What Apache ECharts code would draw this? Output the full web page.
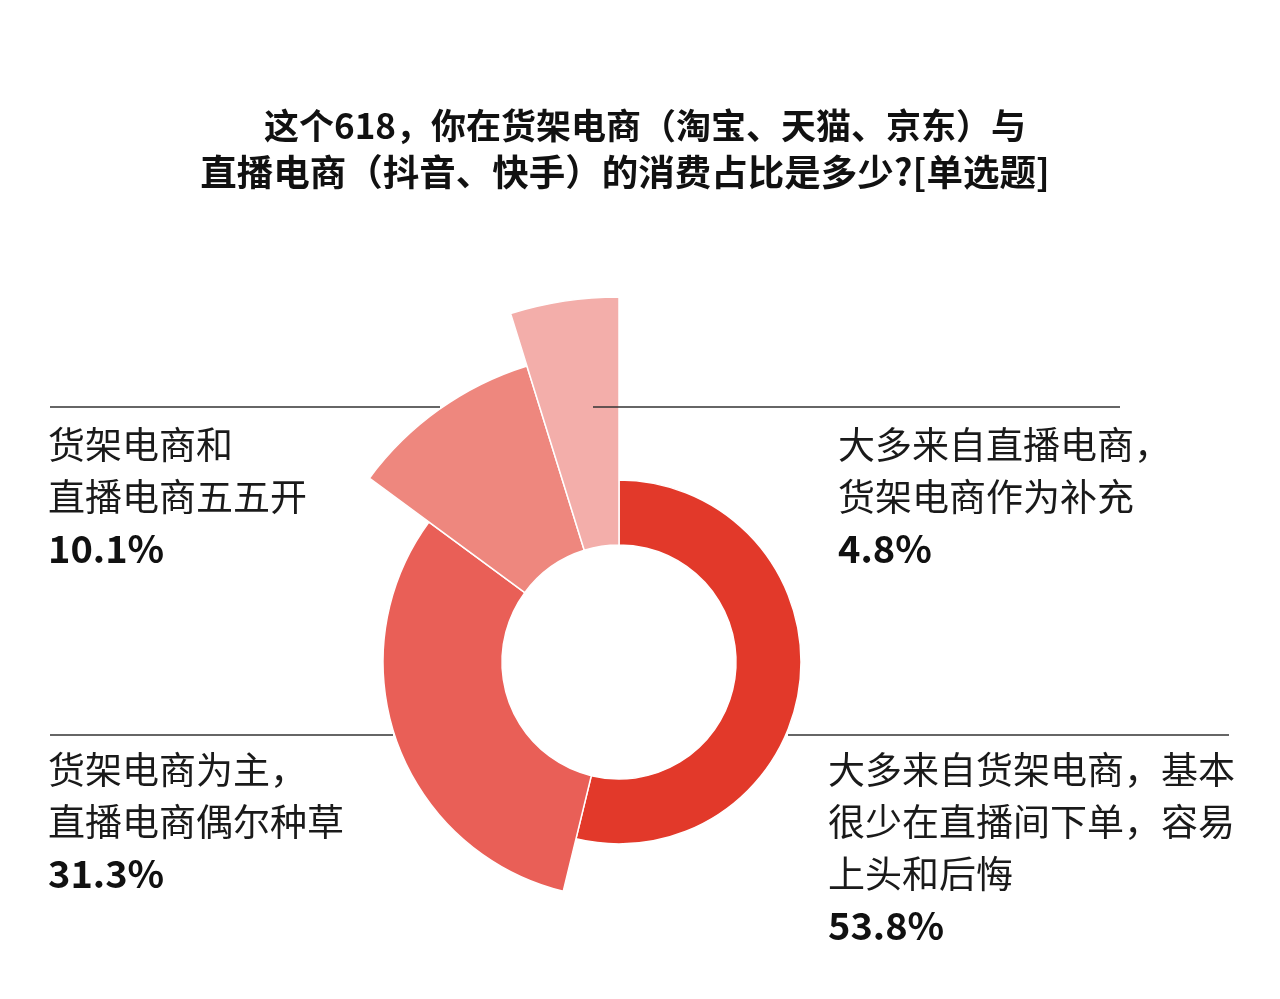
<!DOCTYPE html>
<html><head><meta charset="utf-8">
<script src="https://cdn.jsdelivr.net/npm/echarts@6/dist/echarts.min.js"></script>
<style>html,body{margin:0;padding:0;background:#fff}#c{width:1280px;height:999px}</style>
</head><body><div id="c"></div>
<script>
const titleLines = ['这个618，你在货架电商（淘宝、天猫、京东）与', '直播电商（抖音、快手）的消费占比是多少?[单选题]'];
const categories = ['大多来自货架电商，基本\n很少在直播间下单，容易\n上头和后悔', '货架电商为主，\n直播电商偶尔种草', '货架电商和\n直播电商五五开', '大多来自直播电商，\n货架电商作为补充'];
const values = [53.8, 31.3, 10.1, 4.8];

const colors = ['#e2392a', '#e95f57', '#ee877e', '#f3aeaa'];
const outerRadii = [182, 236, 310, 365];
const innerRadius = 117;
const center = [619, 662];
const labelPos = [[828, 744], [48, 744], [48, 419], [838, 419]];
const leaderLines = [[788, 735, 1229, 735], [50, 735, 393, 735], [50, 407, 440, 407], [593, 407, 1120, 407]];

const FONT = '"Noto Sans CJK SC", "Noto Sans", sans-serif';

const series = values.map((_, i) => ({
  type: 'pie',
  radius: [innerRadius, outerRadii[i]],
  center: center,
  startAngle: 90,
  clockwise: true,
  silent: true,
  animation: false,
  avoidLabelOverlap: false,
  labelLine: { show: false },
  labelLayout: function () {
    return { x: labelPos[i][0], y: labelPos[i][1], align: 'left', verticalAlign: 'top' };
  },
  data: values.map((v, j) => ({
    value: v,
    name: categories[j],
    itemStyle: j === i
      ? { color: colors[j], borderColor: '#fff', borderWidth: 1.5 }
      : { color: 'rgba(0,0,0,0)', borderWidth: 0 },
    label: { show: j === i }
  })),
  label: {
    position: 'outside',
    formatter: function (p) {
      return p.name.split('\n').map(s => '{n|' + s + '}').join('\n') + '\n{v|' + p.value + '%}';
    },
    rich: {
      n: { fontSize: 37, lineHeight: 52, color: '#1a1a1a', fontFamily: FONT, fontWeight: 'normal' },
      v: { fontSize: 38, lineHeight: 52, color: '#111', fontFamily: FONT, fontWeight: 'bold' }
    }
  }
}));

const graphic = [];
titleLines.forEach((t, k) => {
  graphic.push({
    type: 'text', x: k === 0 ? 645 : 625, y: k === 0 ? 126 : 172, z: 100,
    style: { text: t, align: 'center', verticalAlign: 'middle', fontSize: k === 0 ? 35 : 36.5, fontWeight: 'bold', fontFamily: FONT, fill: '#111' }
  });
});
leaderLines.forEach(l => {
  graphic.push({
    type: 'line', z: 100,
    shape: { x1: l[0], y1: l[1], x2: l[2], y2: l[3] },
    style: { stroke: '#333', lineWidth: 1.5 }
  });
});

const chart = echarts.init(document.getElementById('c'));
chart.setOption({
  backgroundColor: '#fff',
  animation: false,
  series: series,
  graphic: graphic
});
</script>
</body></html>
